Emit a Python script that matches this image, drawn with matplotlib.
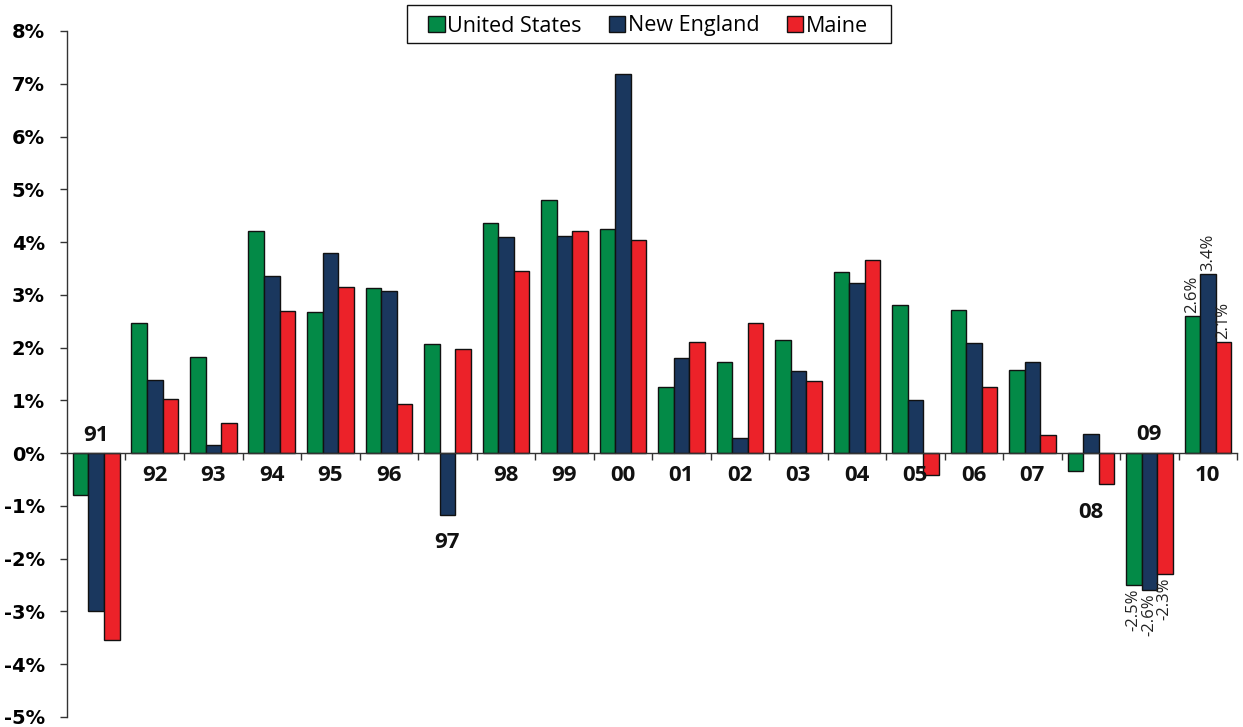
import numpy as np
import matplotlib
matplotlib.use("Agg")
import matplotlib.pyplot as plt
from matplotlib.patches import Patch, Rectangle

# Annual employment growth, percent
years = ["91", "92", "93", "94", "95", "96", "97", "98", "99", "00",
         "01", "02", "03", "04", "05", "06", "07", "08", "09", "10"]
united_states = [-0.80, 2.47, 1.82, 4.21, 2.68, 3.12, 2.07, 4.36, 4.80, 4.24,
                 1.26, 1.72, 2.14, 3.43, 2.80, 2.72, 1.58, -0.34, -2.5, 2.6]
new_england = [-2.99, 1.38, 0.15, 3.36, 3.80, 3.08, -1.17, 4.09, 4.12, 7.18,
               1.80, 0.28, 1.55, 3.22, 1.00, 2.09, 1.73, 0.37, -2.6, 3.4]
maine = [-3.55, 1.02, 0.58, 2.69, 3.14, 0.94, 1.98, 3.45, 4.21, 4.04,
         2.10, 2.46, 1.37, 3.66, -0.42, 1.26, 0.35, -0.58, -2.3, 2.1]

series_names = ["United States", "New England", "Maine"]
y_ticks = list(range(-5, 9))
y_tick_labels = [f"{t}%" for t in y_ticks]

# Years whose values carry printed data labels
labelled_years = ["09", "10"]

colors = ["#038A47", "#1A375E", "#EC2229"]

W, H = 1243, 727
fig = plt.figure(figsize=(W / 100, H / 100), dpi=100)
ax = fig.add_axes([0.0539, 0.0138, 0.9413, 0.9436])

x = np.arange(len(years))
width = 0.265
series = [united_states, new_england, maine]
for k, (vals, col) in enumerate(zip(series, colors)):
    offs = (k - 1) * width
    ax.bar(x + offs, vals, width=width, color=col, edgecolor="#111111",
           linewidth=1.0, zorder=3)
    for i, yr in enumerate(years):
        if yr in labelled_years:
            v = vals[i]
            pad = 0.06
            ax.text(x[i] + offs, v + (pad if v >= 0 else -pad), f"{v:.1f}%",
                    rotation=90, ha="center",
                    va="bottom" if v >= 0 else "top",
                    fontsize=12, family="Open Sans", color="#222222",
                    zorder=4)

ax.set_xlim(-0.5, len(years) - 0.5)
ax.set_ylim(-5, 8)

# Axes styling: left axis plus a zero baseline with group separators
for side in ("top", "right"):
    ax.spines[side].set_visible(False)
ax.spines["left"].set_color("#333333")
ax.spines["left"].set_linewidth(1.0)
ax.spines["bottom"].set_position(("data", 0))
ax.spines["bottom"].set_color("#333333")
ax.spines["bottom"].set_linewidth(1.0)
ax.spines["bottom"].set_zorder(5)

ax.set_xticks(np.arange(0.5, len(years), 1.0))
ax.set_xticklabels([])
ax.tick_params(axis="x", direction="out", length=5, width=1, color="#333333")

ax.set_yticks(y_ticks)
ax.set_yticklabels(y_tick_labels, fontsize=14, fontweight="bold",
                   family="DejaVu Sans")
ax.tick_params(axis="y", direction="out", length=5, width=1, color="#333333",
               pad=11)

# Year labels placed clear of the bars
label_y = {"91": 0.33, "09": 0.35, "97": -1.70, "08": -1.13}
for i, yr in enumerate(years):
    yy = label_y.get(yr, -0.42)
    ax.text(x[i], yy, yr, ha="center", va="center", fontsize=16,
            fontweight="bold", family="Open Sans", color="#111111", zorder=4)

# Legend entries without their own frame; a wider box is drawn around them
handles = [Patch(facecolor=c, edgecolor="#111111", linewidth=1.0) for c in colors]
leg = fig.legend(handles, series_names, loc="center",
                 bbox_to_anchor=(648 / W, 1 - 26 / H), ncol=3, frameon=False,
                 prop={"family": "Open Sans", "size": 15.5},
                 handlelength=0.75, handleheight=0.75, handletextpad=0.1,
                 columnspacing=1.3, borderpad=0.3, borderaxespad=0)
fig.patches.append(Rectangle((407 / W, 1 - 43 / H), 484 / W, 38 / H,
                             transform=fig.transFigure, fill=False,
                             edgecolor="#111111", linewidth=1.0))

fig.savefig("out.png", dpi=100)
